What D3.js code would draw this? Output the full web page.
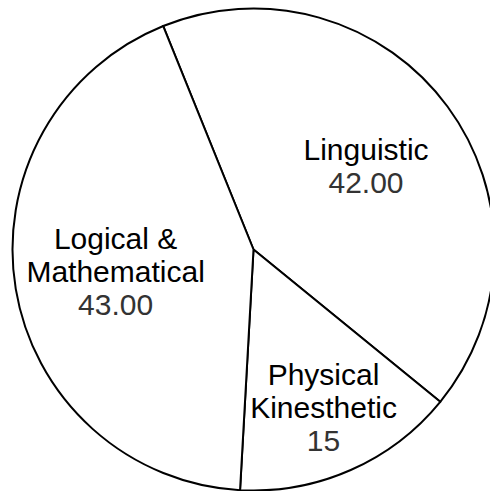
<!DOCTYPE html>
<html>
<head>
<meta charset="utf-8">
<script src="https://cdn.jsdelivr.net/npm/d3@7/dist/d3.min.js"></script>
<style>
  html, body { margin: 0; padding: 0; background: #ffffff; }
  svg { display: block; }
</style>
</head>
<body>
<script>
// Intelligence types and their scores, listed clockwise from the top boundary
const categories = ["Linguistic", "Physical Kinesthetic", "Logical & Mathematical"];
const nameLines = [["Linguistic"], ["Physical", "Kinesthetic"], ["Logical &", "Mathematical"]];
const values = [42, 15, 43];
const valueDecimals = [2, 0, 2];

const width = 490, height = 491;
const cx = 253.5, cy = 249.5, radius = 241;
const startDeg = -22;
const lineGap = 33;
const fontSize = 30;

const svg = d3.select("body").append("svg")
  .attr("width", width)
  .attr("height", height);

const g = svg.append("g").attr("transform", `translate(${cx},${cy})`);

const data = categories.map((c, i) => ({
  name: c,
  lines: nameLines[i],
  value: values[i],
  label: d3.format(`.${valueDecimals[i]}f`)(values[i])
}));

const start = startDeg * Math.PI / 180;
const pie = d3.pie()
  .sort(null)
  .value(d => d.value)
  .startAngle(start)
  .endAngle(start + 2 * Math.PI);

const arcs = pie(data);

const arc = d3.arc().innerRadius(0).outerRadius(radius);

g.selectAll("path.slice")
  .data(arcs)
  .join("path")
  .attr("class", "slice")
  .attr("d", arc)
  .attr("fill", "#ffffff")
  .attr("stroke", "#000000")
  .attr("stroke-width", 2)
  .attr("stroke-linejoin", "round");

// Narrow slices get their label pushed further out along the bisector
function labelPos(d) {
  const span = d.endAngle - d.startAngle;
  const r = radius * (span < Math.PI / 2 ? 0.72 : 0.58);
  return d3.arc().innerRadius(r).outerRadius(r).centroid(d);
}

const labels = g.selectAll("g.label")
  .data(arcs)
  .join("g")
  .attr("class", "label")
  .attr("transform", d => {
    const [x, y] = labelPos(d);
    return `translate(${x},${y})`;
  });

labels.each(function(d) {
  const rows = d.data.lines.map(t => ({ text: t, fill: "#000000" }))
    .concat([{ text: d.data.label, fill: "#333333" }]);
  const n = rows.length;
  d3.select(this).selectAll("text")
    .data(rows)
    .join("text")
    .attr("text-anchor", "middle")
    .attr("x", 0)
    .attr("y", (r, i) => (i - (n - 1) / 2) * lineGap + 10)
    .attr("font-family", "'Liberation Sans', Arial, sans-serif")
    .attr("font-size", fontSize)
    .attr("fill", r => r.fill)
    .text(r => r.text);
});
</script>
</body>
</html>
